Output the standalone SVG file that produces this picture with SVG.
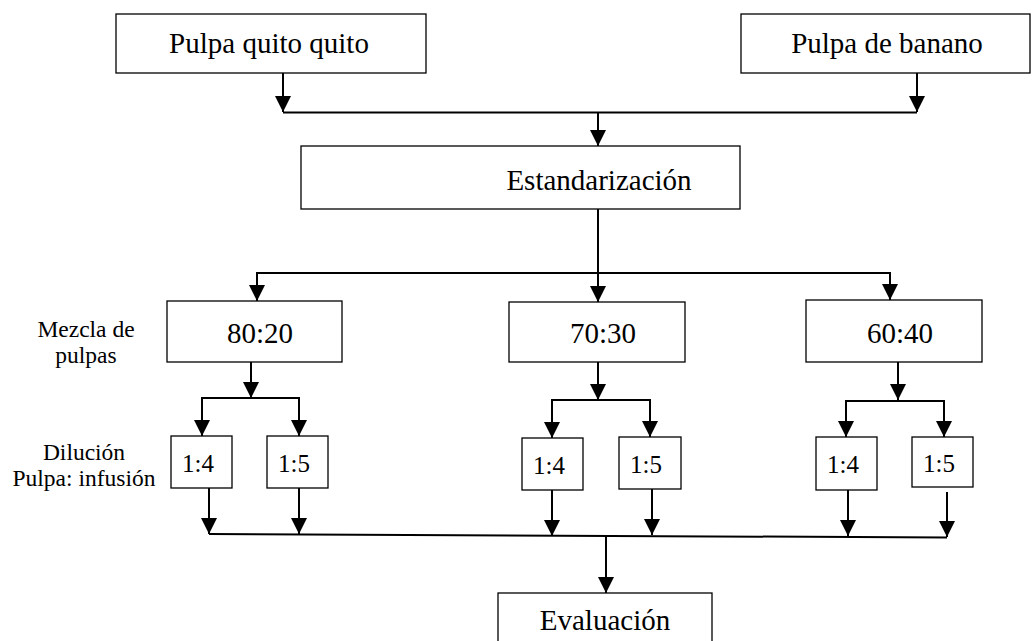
<svg xmlns="http://www.w3.org/2000/svg" width="1036" height="641" viewBox="0 0 1036 641">
<style>
.box{fill:#fff;stroke:#000;stroke-width:1.3}
text{font-family:'Liberation Serif','Times New Roman','DejaVu Serif',serif;fill:#000;text-anchor:middle}
.big{font-size:29px}
.mid{font-size:25px}
.lab{font-size:23.5px}
.c{fill:none;stroke:#000;stroke-width:2}
</style>
<defs>
<marker id="ah" markerUnits="userSpaceOnUse" markerWidth="16" markerHeight="16" viewBox="0 0 16 16" refX="16" refY="8" orient="auto">
<path d="M0,0 L16,8 L0,16 Z" fill="#000"/>
</marker>
</defs>
<rect width="1036" height="641" fill="#fff"/>
<g id="connectors">
<line class="c" x1="283" y1="73" x2="283" y2="112" marker-end="url(#ah)"/>
<line class="c" x1="917" y1="73" x2="917" y2="112" marker-end="url(#ah)"/>
<line class="c" x1="283" y1="112.5" x2="917" y2="112.5"/>
<line class="c" x1="598" y1="112.5" x2="598" y2="146" marker-end="url(#ah)"/>
<line class="c" x1="598" y1="209" x2="598" y2="273"/>
<line class="c" x1="257" y1="273" x2="890" y2="273"/>
<line class="c" x1="257" y1="272" x2="257" y2="301" marker-end="url(#ah)"/>
<line class="c" x1="598" y1="273" x2="598" y2="302" marker-end="url(#ah)"/>
<line class="c" x1="890" y1="272" x2="890" y2="300" marker-end="url(#ah)"/>
<line class="c" x1="251" y1="362" x2="251" y2="398" marker-end="url(#ah)"/>
<line class="c" x1="202" y1="398" x2="299" y2="398"/>
<line class="c" x1="202" y1="397" x2="202" y2="436" marker-end="url(#ah)"/>
<line class="c" x1="299" y1="397" x2="299" y2="436" marker-end="url(#ah)"/>
<line class="c" x1="598" y1="362" x2="598" y2="400" marker-end="url(#ah)"/>
<line class="c" x1="552" y1="400" x2="650" y2="400"/>
<line class="c" x1="552" y1="399" x2="552" y2="438" marker-end="url(#ah)"/>
<line class="c" x1="650" y1="399" x2="650" y2="437" marker-end="url(#ah)"/>
<line class="c" x1="898" y1="362" x2="898" y2="400" marker-end="url(#ah)"/>
<line class="c" x1="846" y1="401" x2="944" y2="401"/>
<line class="c" x1="846" y1="400" x2="846" y2="437" marker-end="url(#ah)"/>
<line class="c" x1="944" y1="400" x2="944" y2="437" marker-end="url(#ah)"/>
<line class="c" x1="209" y1="488" x2="209" y2="534" marker-end="url(#ah)"/>
<line class="c" x1="299" y1="488" x2="299" y2="534" marker-end="url(#ah)"/>
<line class="c" x1="552" y1="490" x2="552" y2="536" marker-end="url(#ah)"/>
<line class="c" x1="652" y1="489" x2="652" y2="535" marker-end="url(#ah)"/>
<line class="c" x1="848" y1="490" x2="848" y2="536" marker-end="url(#ah)"/>
<line class="c" x1="947" y1="492" x2="947" y2="537" marker-end="url(#ah)"/>
<line class="c" x1="209" y1="534" x2="947" y2="537.5"/>
<line class="c" x1="606" y1="536" x2="606" y2="593" marker-end="url(#ah)"/>
</g>
<g id="n-quito"><rect class="box" x="116" y="14" width="310" height="59"/><text class="big" x="269" y="53">Pulpa quito quito</text></g>
<g id="n-banano"><rect class="box" x="741" y="14" width="289" height="59"/><text class="big" x="887" y="53">Pulpa de banano</text></g>
<g id="n-estandarizacion"><rect class="box" x="301" y="146" width="439" height="63"/><text class="big" x="599" y="190">Estandarización</text></g>
<g id="lab-mezcla"><text class="lab" x="86" y="337">Mezcla de</text><text class="lab" x="86" y="363">pulpas</text></g>
<g id="lab-dilucion"><text class="lab" x="84" y="460">Dilución</text><text class="lab" x="84" y="486">Pulpa: infusión</text></g>
<g id="n-8020"><rect class="box" x="167" y="301" width="175" height="61"/><text class="big" x="260" y="343">80:20</text></g>
<g id="n-7030"><rect class="box" x="509" y="302" width="176" height="60"/><text class="big" x="603" y="343">70:30</text></g>
<g id="n-6040"><rect class="box" x="806" y="300" width="176" height="62"/><text class="big" x="900" y="343">60:40</text></g>
<g id="n-a14"><rect class="box" x="171" y="436" width="61" height="52"/><text class="mid" x="198" y="472">1:4</text></g>
<g id="n-a15"><rect class="box" x="267" y="436" width="61" height="52"/><text class="mid" x="294" y="472">1:5</text></g>
<g id="n-b14"><rect class="box" x="522" y="438" width="61" height="52"/><text class="mid" x="549" y="474">1:4</text></g>
<g id="n-b15"><rect class="box" x="619" y="437" width="62" height="52"/><text class="mid" x="646" y="473">1:5</text></g>
<g id="n-c14"><rect class="box" x="816" y="437" width="61" height="53"/><text class="mid" x="843" y="473">1:4</text></g>
<g id="n-c15"><rect class="box" x="912" y="437" width="61" height="50"/><text class="mid" x="939" y="472">1:5</text></g>
<g id="n-evaluacion"><rect class="box" x="498" y="593" width="214" height="60"/><text class="big" x="605" y="630">Evaluación</text></g>
</svg>
